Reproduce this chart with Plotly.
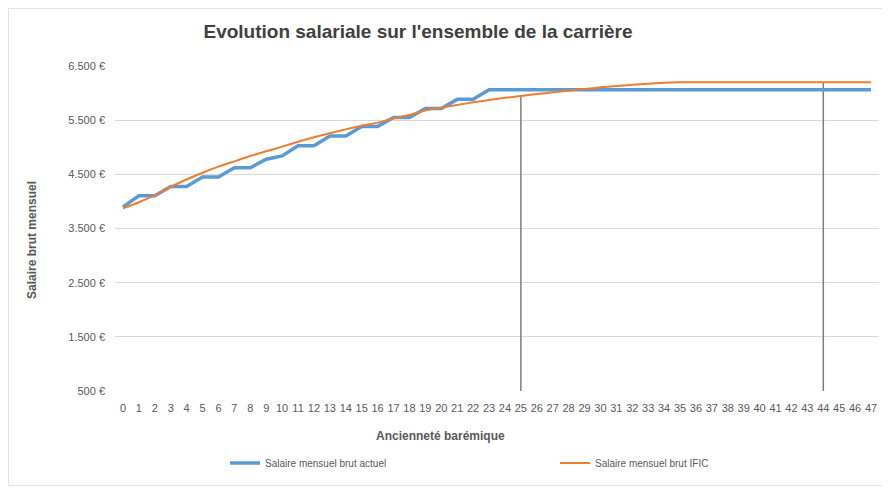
import plotly.graph_objects as go

anciennete = list(range(48))
salaire_actuel = [3900, 4105, 4105, 4275, 4275, 4450, 4450, 4620, 4620, 4780, 4840,
                  5028, 5028, 5207, 5207, 5385, 5385, 5550, 5550, 5715, 5715, 5884, 5884] + [6060] * 25
salaire_ific = [3873, 3985, 4118, 4271, 4405, 4530, 4642, 4740, 4838, 4925, 5011,
                5100, 5183, 5257, 5330, 5395, 5455, 5530, 5595, 5680, 5730, 5780, 5830,
                5872, 5914, 5946, 5983, 6014, 6044, 6075, 6106, 6130, 6154, 6173, 6192] + [6200] * 13
reperes = [25, 44]
y_ticks = [500, 1500, 2500, 3500, 4500, 5500, 6500]
y_labels = ["500 €", "1.500 €", "2.500 €", "3.500 €", "4.500 €", "5.500 €", "6.500 €"]

FONT = "Liberation Sans"
GREY = "#595959"

# the page body adds an 8px offset; figure coordinates below are screen - 8
W, H = 882, 480
L, R, T, B = 107, 11, 58, 97
PW, PH = W - L - R, H - T - B


def px(x):
    return (x - L) / PW


def py(y):
    return (H - B - y) / PH


fig = go.Figure()

vx, vy = [], []
for r in reperes:
    vx += [r, r, None]
    vy += [y_ticks[0], salaire_ific[r], None]
fig.add_trace(go.Scatter(x=vx, y=vy, mode="lines", line=dict(color="#7f7f7f", width=1.5),
                         showlegend=False, hoverinfo="skip"))

fig.add_trace(go.Scatter(x=anciennete, y=salaire_actuel, mode="lines",
                         name="Salaire mensuel brut actuel",
                         line=dict(color="#5B9BD5", width=3.5)))
fig.add_trace(go.Scatter(x=anciennete, y=salaire_ific, mode="lines",
                         name="Salaire mensuel brut IFIC",
                         line=dict(color="#ED7D31", width=2, shape="spline", smoothing=0.6)))

fig.update_layout(
    width=W, height=H,
    margin=dict(l=L, r=R, t=T, b=B, autoexpand=False),
    paper_bgcolor="white", plot_bgcolor="white",
    font=dict(family=FONT, color=GREY, size=11),
    title=dict(text="<b>Evolution salariale sur l'ensemble de la carrière</b>",
               x=410 / W, xanchor="center", y=1 - 23 / H, yanchor="middle",
               font=dict(family=FONT, size=19, color="#404040")),
    xaxis=dict(range=[-0.5, 47.5], tickmode="array", tickvals=anciennete,
               ticktext=[str(a) for a in anciennete], tickangle=0, automargin=False,
               showgrid=False, zeroline=False, showline=False, ticks="",
               ticklabelstandoff=9, tickfont=dict(size=11, color=GREY)),
    yaxis=dict(range=[500, 6500], tickmode="array", tickvals=y_ticks, ticktext=y_labels,
               showgrid=True, gridcolor="#D9D9D9", gridwidth=1, zeroline=False, automargin=False,
               showline=False, ticks="", ticklen=0, ticklabelstandoff=9,
               tickfont=dict(size=11, color=GREY)),
    showlegend=True,
    legend=dict(orientation="h", x=px(217), xanchor="left", y=py(455),
                yanchor="middle", entrywidth=285, entrywidthmode="pixels",
                font=dict(size=10, color=GREY), bgcolor="rgba(0,0,0,0)", itemwidth=30),
    annotations=[
        dict(text="<b>Ancienneté barémique</b>", xref="paper", yref="paper",
             x=px(432), y=py(428), xanchor="center", yanchor="middle",
             showarrow=False, font=dict(family=FONT, size=12, color=GREY)),
        dict(text="<b>Salaire brut mensuel</b>", xref="paper", yref="paper",
             x=px(24), y=py(232), xanchor="center", yanchor="middle",
             textangle=-90, showarrow=False, font=dict(family=FONT, size=12, color=GREY)),
    ],
    shapes=[
        dict(type="rect", xref="paper", yref="paper",
             x0=px(0.5), x1=px(W - 0.5), y0=py(H - 2.5), y1=py(0.5),
             line=dict(color="#E3E3E3", width=1), layer="below"),
    ],
)

fig.write_html("out.html")
